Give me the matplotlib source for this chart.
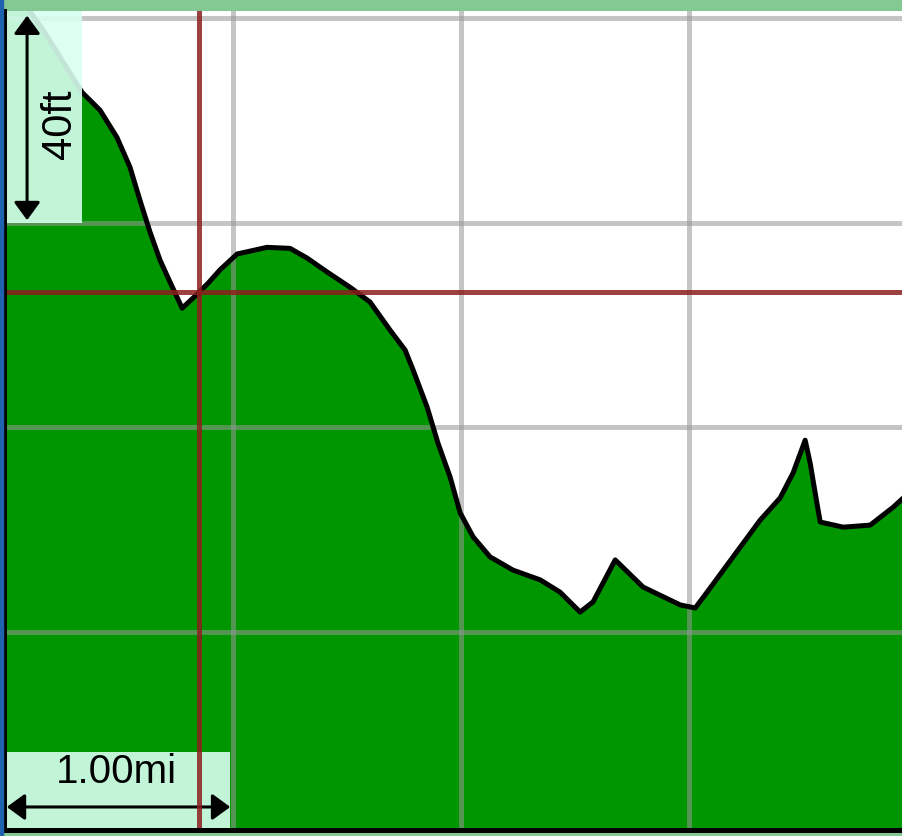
import matplotlib.pyplot as plt
from matplotlib.patches import Rectangle

# elevation profile: distance (mi) vs relative elevation (ft)
dist = [0.000, 0.169, 0.340, 0.419, 0.493, 0.550, 0.594, 0.638, 0.682, 0.726,
        0.779, 0.827, 0.893, 0.945, 1.020, 1.151, 1.252, 1.327, 1.414, 1.515,
        1.603, 1.691, 1.757, 1.792, 1.853, 1.901, 1.954, 1.998, 2.055, 2.129,
        2.230, 2.349, 2.436, 2.524, 2.581, 2.678, 2.800, 2.963, 3.029, 3.081,
        3.195, 3.314, 3.401, 3.458, 3.511, 3.533, 3.564, 3.577, 3.678, 3.796,
        3.897, 3.941]
elev = [168.4, 157.7, 145.5, 142.0, 136.7, 130.9, 124.4, 118.2, 112.7, 108.4,
        103.3, 105.3, 108.2, 110.8, 113.9, 115.2, 115.0, 113.1, 110.4, 107.4,
        104.5, 99.0, 95.1, 91.2, 84.0, 76.9, 70.3, 63.3, 58.6, 54.7,
        52.1, 50.2, 47.8, 43.9, 45.9, 54.1, 48.8, 45.3, 44.7, 47.8,
        54.7, 61.9, 66.2, 71.1, 77.5, 73.0, 64.8, 61.5, 60.5, 60.9,
        64.4, 66.2]

grid_x = [1, 2, 3]
grid_y = [40, 80, 120, 160]
cursor_x = 0.853
cursor_y = 106.5
scale_x_label = '1.00mi'
scale_y_label = '40ft'

W, H = 903, 836
fig = plt.figure(figsize=(W / 100, H / 100), dpi=100, facecolor='#84c893')
fig.patches.append(Rectangle((0, 0), 2.5 / W, 1, transform=fig.transFigure,
                             color='#1f62b0', zorder=0))
ax = fig.add_axes([4.5 / W, 6 / H, 1 - 4.5 / W, 819 / H])
ax.set_facecolor('white')
ax.set_xlim(0, 3.94)
ax.set_ylim(1.3, 161.4)
ax.set_xticks([])
ax.set_yticks([])
for s in ['top', 'right']:
    ax.spines[s].set_visible(False)
for s in ['left', 'bottom']:
    ax.spines[s].set_color('black')
    ax.spines[s].set_linewidth(3.6)
    ax.spines[s].set_zorder(10)

# terrain
ax.fill_between(dist, elev, 0, color='#009600', lw=0, zorder=1)
for gx in grid_x:
    ax.axvline(gx, color='#969696', alpha=0.55, lw=3.6, zorder=2)
for gy in grid_y:
    ax.axhline(gy, color='#969696', alpha=0.55, lw=3.6, zorder=2)
ax.plot(dist, elev, color='black', lw=3.6, zorder=3, solid_joinstyle='round')

# scale boxes
box_kw = dict(facecolor='#d8fff0', alpha=0.9, lw=0, zorder=4)
ax.add_patch(Rectangle((0.011, 119.9), 0.329, 45, **box_kw))
ax.add_patch(Rectangle((0.011, 0), 0.978, 16.6, **box_kw))

arrow_kw = dict(arrowstyle='<|-|>,head_length=0.55,head_width=0.4',
                mutation_scale=20, color='black', lw=2.2, shrinkA=0, shrinkB=0)
ax.annotate('', xy=(0.099, 160.5), xytext=(0.099, 120.5), arrowprops=arrow_kw,
            zorder=5)
ax.annotate('', xy=(0.01, 5.8), xytext=(0.99, 5.8), arrowprops=arrow_kw,
            zorder=5)

fonts = ['Liberation Sans', 'DejaVu Sans']
ax.text(0.243, 139.3, scale_y_label, rotation=90, ha='center', va='center',
        fontsize=30, family=fonts, zorder=5)
ax.text(0.489, 12.6, scale_x_label, ha='center', va='center',
        fontsize=29, family=fonts, zorder=5)

# cursor
ax.axvline(cursor_x, color='#8c1e1e', alpha=0.85, lw=3.6, zorder=6)
ax.axhline(cursor_y, color='#8c1e1e', alpha=0.85, lw=3.6, zorder=6)

fig.savefig('out.png', dpi=100, facecolor=fig.get_facecolor())
